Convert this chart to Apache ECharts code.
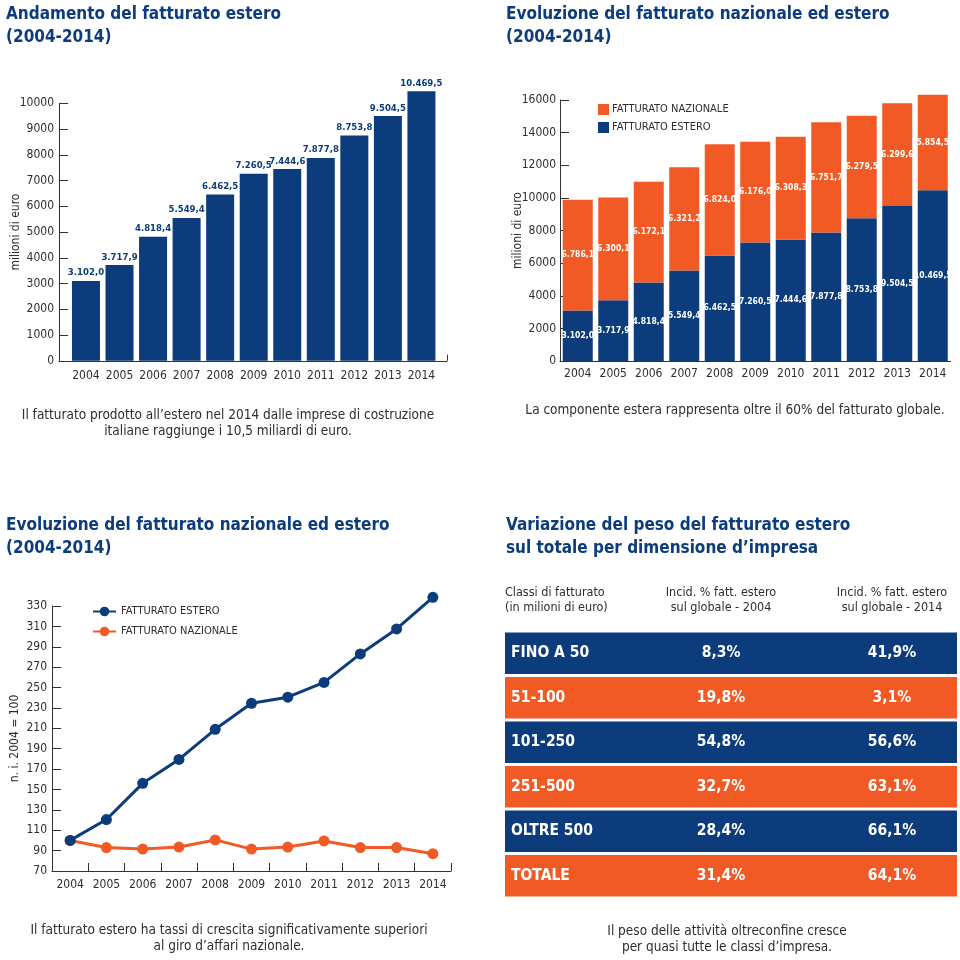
<!DOCTYPE html>
<html><head><meta charset="utf-8">
<script src="https://cdn.jsdelivr.net/npm/echarts@6/dist/echarts.min.js"></script>
<style>html,body{margin:0;padding:0;background:#fff}#c{width:960px;height:960px}</style>
</head><body><div id="c"></div>
<script>
const years = ['2004','2005','2006','2007','2008','2009','2010','2011','2012','2013','2014'];
const estero = [3102.0, 3717.9, 4818.4, 5549.4, 6462.5, 7260.5, 7444.6, 7877.8, 8753.8, 9504.5, 10469.5];
const nazionale = [6786.1, 6300.1, 6172.1, 6321.2, 6824.0, 6176.0, 6308.3, 6751.7, 6279.5, 6299.6, 5854.5];
const idxEstero = [100, 120.5, 156, 179.5, 209, 234.5, 240.5, 255, 283, 307.5, 338.5];
const idxNazionale = [100, 93, 91.5, 93.5, 100.5, 91.5, 93.5, 99.5, 93, 93, 87];
const classi = ['FINO A 50','51-100','101-250','251-500','OLTRE 500','TOTALE'];
const incid2004 = [8.3, 19.8, 54.8, 32.7, 28.4, 31.4];
const incid2014 = [41.9, 3.1, 56.6, 63.1, 66.1, 64.1];

const NAVY = '#0c3c7c';
const ORANGE = '#f15a24';
const TXT = '#2e2e2e';
const FONT = "'Liberation Sans Narrow', 'DejaVu Sans Condensed', 'Liberation Sans', sans-serif";

function fmtIt(v){
  const s = v.toFixed(1).split('.');
  return s[0].replace(/\B(?=(\d{3})+(?!\d))/g, '.') + ',' + s[1];
}
function fmtPct(v){ return v.toFixed(1).replace('.', ',') + '%'; }

const chart = echarts.init(document.getElementById('c'), null, {renderer:'canvas'});
const titleStyle = {fontSize:17, fontWeight:'bold', color:NAVY, lineHeight:23, fontFamily:FONT};
const axisTxt = {color:TXT, fontSize:12, fontFamily:FONT};
const lineSt = {show:true, lineStyle:{color:'#333', width:1}};
const nameSt = {color:TXT, fontSize:12, fontFamily:FONT};
const plain = v => String(v);

const option = {
  animation:false,
  textStyle:{fontFamily:FONT},
  title:[
    {text:'Andamento del fatturato estero\n(2004-2014)', left:6, top:3, padding:0, textStyle:titleStyle},
    {text:'Evoluzione del fatturato nazionale ed estero\n(2004-2014)', left:506, top:3, padding:0, textStyle:titleStyle},
    {text:'Evoluzione del fatturato nazionale ed estero\n(2004-2014)', left:6, top:514, padding:0, textStyle:titleStyle},
    {text:'Variazione del peso del fatturato estero\nsul totale per dimensione d\u2019impresa', left:506, top:514, padding:0, textStyle:titleStyle}
  ],
  legend:[
    {left:593, top:99, orient:'vertical', itemWidth:11, itemHeight:11, itemGap:7, icon:'rect', selectedMode:false,
     data:['FATTURATO NAZIONALE','FATTURATO ESTERO'], textStyle:{color:TXT, fontSize:11, fontFamily:FONT, padding:[0,0,0,-2]}},
    {left:87, top:601, orient:'vertical', itemWidth:23, itemHeight:12, itemGap:9, selectedMode:false,
     data:['FATTURATO ESTERO ','FATTURATO NAZIONALE '], formatter:n=>n.trim(),
     textStyle:{color:TXT, fontSize:11, fontFamily:FONT, padding:[0,0,0,0]}}
  ],
  grid:[
    {left:69.2, top:103.3, width:369, height:257.5},
    {left:59, top:103.3, width:388, height:257.5},
    {left:560, top:100, width:390.5, height:261},
    {left:52, top:606, width:399, height:265},
    {left:505, top:631, width:452, height:267}
  ],
  xAxis:[
    {gridIndex:0, type:'category', data:years, axisLine:{show:false}, axisTick:{show:false},
     axisLabel:{...axisTxt, margin:9, interval:0}},
    {gridIndex:1, type:'category', data:[''], axisLine:lineSt, axisTick:{show:true, inside:true, length:6, lineStyle:{color:'#333'}}, axisLabel:{show:false}},
    {gridIndex:2, type:'category', data:years, axisLine:lineSt, axisTick:{show:false},
     axisLabel:{...axisTxt, margin:7, interval:0}},
    {gridIndex:3, type:'category', data:years, axisLine:lineSt, axisTick:{show:true, inside:true, length:8, lineStyle:{color:'#333'}},
     axisLabel:{...axisTxt, margin:8, interval:0}},
    {gridIndex:4, type:'value', min:0, max:1, show:false}
  ],
  yAxis:[
    {gridIndex:0, type:'value', min:0, max:10000, interval:1000, offset:10.2, axisLine:lineSt,
     axisTick:{show:true, inside:true, length:9, lineStyle:{color:'#333'}}, splitLine:{show:false},
     axisLabel:{...axisTxt, margin:5, formatter:plain},
     name:'milioni di euro', nameLocation:'middle', nameRotate:90, nameGap:37, nameMoveOverlap:false, nameTextStyle:nameSt},
    {gridIndex:1, type:'value', show:false},
    {gridIndex:2, type:'value', min:0, max:16000, interval:2000, axisLine:lineSt,
     axisTick:{show:true, inside:true, length:9, lineStyle:{color:'#333'}}, splitLine:{show:false},
     axisLabel:{...axisTxt, margin:4, formatter:plain},
     name:'milioni di euro', nameLocation:'middle', nameRotate:90, nameGap:36, nameMoveOverlap:false, nameTextStyle:nameSt},
    {gridIndex:3, type:'value', min:70, max:330, interval:20, axisLine:lineSt,
     axisTick:{show:true, inside:true, length:9, lineStyle:{color:'#333'}}, splitLine:{show:false},
     axisLabel:{...axisTxt, margin:5, formatter:plain},
     name:'n. i. 2004 = 100', nameLocation:'middle', nameRotate:90, nameGap:31, nameMoveOverlap:false, nameTextStyle:nameSt},
    {gridIndex:4, type:'category', data:classi, inverse:true, show:false}
  ],
  series:[
    {type:'bar', name:'c1', xAxisIndex:0, yAxisIndex:0, data:estero, barWidth:28, clip:false,
     itemStyle:{color:NAVY},
     label:{show:true, position:'top', distance:3, color:NAVY, fontWeight:'bold', fontSize:9.5, fontFamily:FONT, formatter:p=>fmtIt(p.value)}},
    {type:'bar', name:'FATTURATO ESTERO', xAxisIndex:2, yAxisIndex:2, stack:'tot', data:estero, barWidth:30, clip:false,
     itemStyle:{color:NAVY},
     label:{show:true, position:'inside', color:'#fff', fontWeight:'bold', fontSize:8.5, fontFamily:FONT, overflow:'none', formatter:p=>fmtIt(p.value)}},
    {type:'bar', name:'FATTURATO NAZIONALE', xAxisIndex:2, yAxisIndex:2, stack:'tot', data:nazionale, barWidth:30, clip:false,
     itemStyle:{color:ORANGE},
     label:{show:true, position:'inside', color:'#fff', fontWeight:'bold', fontSize:8.5, fontFamily:FONT, overflow:'none', formatter:p=>fmtIt(p.value)}},
    {type:'line', name:'FATTURATO NAZIONALE ', xAxisIndex:3, yAxisIndex:3, data:idxNazionale, clip:false,
     symbol:'circle', symbolSize:11, lineStyle:{color:ORANGE, width:3}, itemStyle:{color:ORANGE}},
    {type:'line', name:'FATTURATO ESTERO ', xAxisIndex:3, yAxisIndex:3, data:idxEstero, clip:false,
     symbol:'circle', symbolSize:11, lineStyle:{color:NAVY, width:3}, itemStyle:{color:NAVY}},
    {type:'custom', name:'tabella', xAxisIndex:4, yAxisIndex:4, data:classi.map((c,i)=>[0.5, c]),
     encode:{x:0, y:1},
     renderItem:function(params, api){
       const i = params.dataIndex;
       const yc = api.coord([0, i])[1];
       const bh = api.size([0, 1])[1];
       const cs = params.coordSys;
       const h = bh - 3;
       const base = {fill:'#fff', fontWeight:'bold', fontSize:15.5, fontFamily:FONT, verticalAlign:'middle'};
       return {type:'group', children:[
         {type:'rect', shape:{x:cs.x, y:yc - h/2, width:cs.width, height:h}, style:{fill: i % 2 ? ORANGE : NAVY}},
         {type:'text', x:cs.x + 6, y:yc, style:{...base, text:classi[i], align:'left'}},
         {type:'text', x:cs.x + cs.width*0.478, y:yc, style:{...base, text:fmtPct(incid2004[i]), align:'center'}},
         {type:'text', x:cs.x + cs.width*0.856, y:yc, style:{...base, text:fmtPct(incid2014[i]), align:'center'}}
       ]};
     }}
  ],
  graphic:[
    {type:'text', x:228, y:423, style:{text:'Il fatturato prodotto all\u2019estero nel 2014 dalle imprese di costruzione\nitaliane raggiunge i 10,5 miliardi di euro.', align:'center', verticalAlign:'middle', fill:TXT, fontSize:13.5, lineHeight:16, fontFamily:FONT}},
    {type:'text', x:735, y:410, style:{text:'La componente estera rappresenta oltre il 60% del fatturato globale.', align:'center', verticalAlign:'middle', fill:TXT, fontSize:13.5, lineHeight:16, fontFamily:FONT}},
    {type:'text', x:229, y:938, style:{text:'Il fatturato estero ha tassi di crescita significativamente superiori\nal giro d\u2019affari nazionale.', align:'center', verticalAlign:'middle', fill:TXT, fontSize:13.5, lineHeight:16, fontFamily:FONT}},
    {type:'text', x:727, y:939, style:{text:'Il peso delle attivit\u00e0 oltreconfine cresce\nper quasi tutte le classi d\u2019impresa.', align:'center', verticalAlign:'middle', fill:TXT, fontSize:13.5, lineHeight:16, fontFamily:FONT}},
    {type:'text', x:505, y:600, style:{text:'Classi di fatturato\n(in milioni di euro)', align:'left', verticalAlign:'middle', fill:TXT, fontSize:12.5, lineHeight:15, fontFamily:FONT}},
    {type:'text', x:721, y:600, style:{text:'Incid. % fatt. estero\nsul globale - 2004', align:'center', verticalAlign:'middle', fill:TXT, fontSize:12.5, lineHeight:15, fontFamily:FONT}},
    {type:'text', x:892, y:600, style:{text:'Incid. % fatt. estero\nsul globale - 2014', align:'center', verticalAlign:'middle', fill:TXT, fontSize:12.5, lineHeight:15, fontFamily:FONT}}
  ]
};
chart.setOption(option);
</script>
</body></html>
